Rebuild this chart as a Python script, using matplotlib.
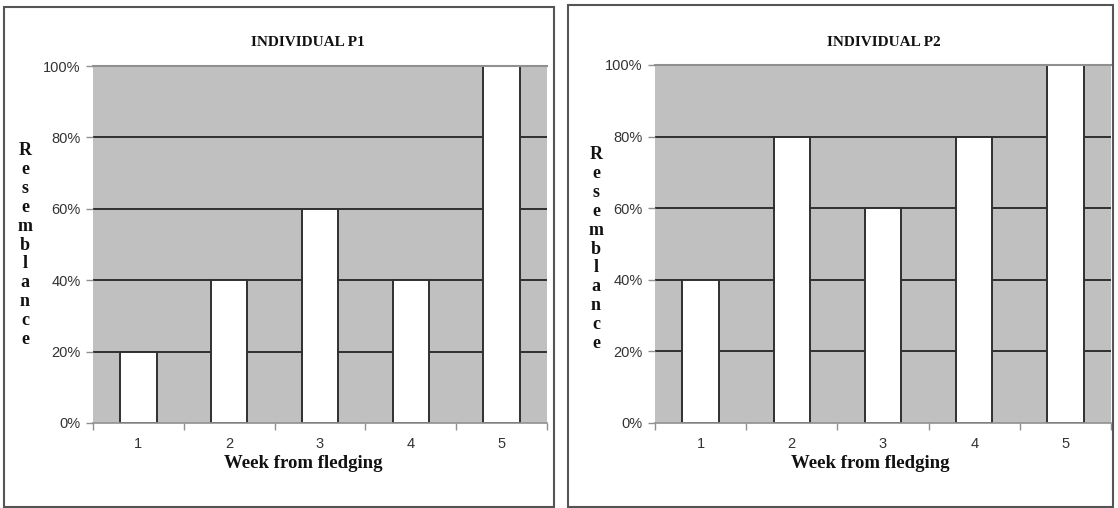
import matplotlib.pyplot as plt
from matplotlib.patches import Rectangle
from matplotlib.ticker import FuncFormatter

weeks = [1, 2, 3, 4, 5]
p1_values = [20, 40, 60, 40, 100]
p2_values = [40, 80, 60, 80, 100]
titles = ['INDIVIDUAL P1', 'INDIVIDUAL P2']

W, H = 1118, 508
fig = plt.figure(figsize=(W / 100, H / 100), dpi=100)

serif = ['Liberation Serif', 'DejaVu Serif']
sans = ['Liberation Sans', 'DejaVu Sans']


def px_box(x0, y0, x1, y1):
    # pixel box (top-left origin) -> figure fraction rect
    return [x0 / W, (H - y1) / H, (x1 - x0) / W, (y1 - y0) / H]


panels = [
    dict(border=(4, 7, 554, 507), plot=(93, 66, 547, 423), vals=p1_values,
         title_x=308, ylab_x=25, ylab_y=245, xlab_x=303),
    dict(border=(568, 5, 1113, 507), plot=(655, 65, 1111, 423), vals=p2_values,
         title_x=884, ylab_x=596, ylab_y=249, xlab_x=870),
]

for i, p in enumerate(panels):
    bx0, by0, bx1, by1 = p['border']
    fig.patches.append(Rectangle((bx0 / W, (H - by1) / H), (bx1 - bx0) / W, (by1 - by0) / H,
                                 transform=fig.transFigure, fill=False,
                                 edgecolor='#555555', linewidth=1.5))

    ax = fig.add_axes(px_box(*p['plot']))
    ax.set_facecolor('#c0c0c0')
    ax.set_xlim(0.5, 5.5)
    ax.set_ylim(0, 100)
    ax.set_yticks([0, 20, 40, 60, 80, 100])
    ax.yaxis.set_major_formatter(FuncFormatter(lambda v, pos: f'{v:.0f}%'))
    for y in [20, 40, 60, 80]:
        ax.axhline(y, color='#303030', linewidth=1.4, zorder=1)
    ax.bar(weeks, p['vals'], width=0.4, color='white', edgecolor='#303030',
           linewidth=1.4, zorder=2)

    ax.set_xticks(weeks)
    ax.set_xticks([0.5, 1.5, 2.5, 3.5, 4.5, 5.5], minor=True)
    ax.tick_params(axis='x', which='major', length=0, pad=10,
                   labelsize=10.5, labelcolor='#333333')
    ax.tick_params(axis='x', which='minor', length=5, color='#909090', width=1)
    ax.tick_params(axis='y', length=5, color='#909090', width=1, pad=4,
                   labelsize=10.5, labelcolor='#333333')
    for lab in ax.get_xticklabels() + ax.get_yticklabels():
        lab.set_fontfamily(sans)

    for side in ['left', 'right']:
        ax.spines[side].set_visible(False)
    ax.spines['top'].set_color('#909090')
    ax.spines['bottom'].set_color('#909090')
    ax.spines['top'].set_linewidth(1.5)
    ax.spines['bottom'].set_linewidth(1.2)

    fig.text(p['title_x'] / W, 1 - 43 / H, titles[i], ha='center', va='center',
             family=serif, fontsize=11, fontweight='bold', color='#111111')
    fig.text(p['xlab_x'] / W, 1 - 464 / H, 'Week from fledging', ha='center', va='center',
             family=serif, fontsize=13.5, fontweight='bold', color='#111111')
    fig.text(p['ylab_x'] / W, 1 - p['ylab_y'] / H, '\n'.join('Resemblance'),
             ha='center', va='center', family=serif, fontsize=13,
             fontweight='bold', color='#111111', linespacing=1.15)

fig.savefig('out.png', dpi=100)
